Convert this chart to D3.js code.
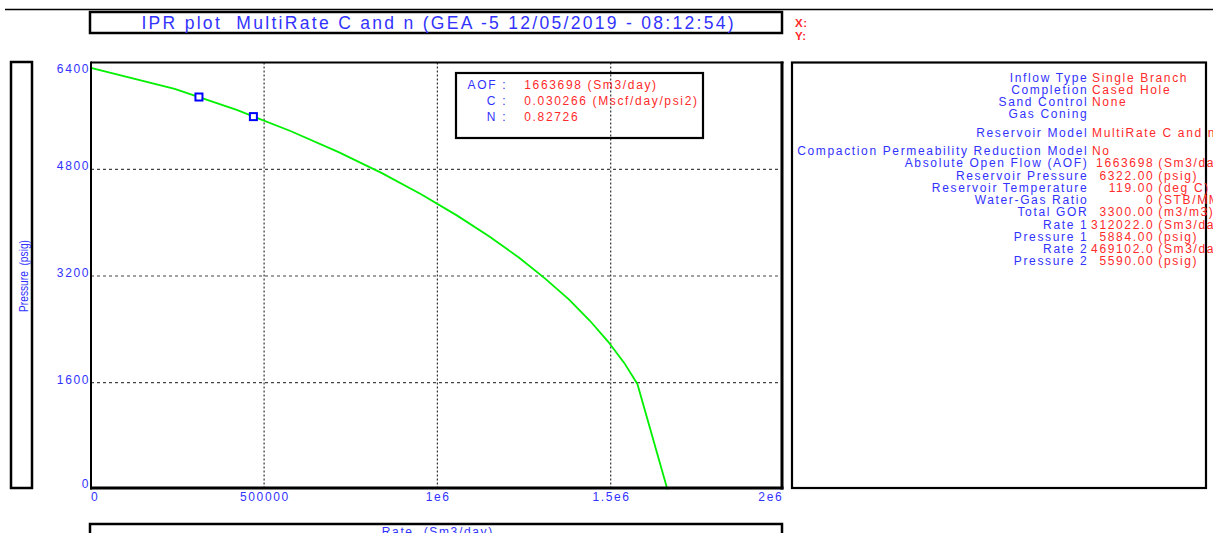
<!DOCTYPE html>
<html><head><meta charset="utf-8">
<script src="https://cdn.jsdelivr.net/npm/d3@7"></script>
<style>
html,body{margin:0;padding:0;background:#fff;overflow:hidden}
svg{display:block}
text{font-family:"Liberation Sans",Arial,sans-serif;white-space:pre}
</style></head><body>
<svg id="chart" width="1213" height="533"></svg>
<script>
// IPR curve: flowing bottom-hole pressure (psig) against gas rate (Sm3/day)
const curvePressures = [0, 1581, 1897, 2213, 2529, 2845, 3161, 3477, 3793, 4109, 4425, 4742, 5058, 5374, 5690, 6006, 6322];
const curveRates = [1663698, 1577000, 1539000, 1493000, 1440000, 1380000, 1311000, 1235000, 1150000, 1056000, 953000, 840000, 715000, 576000, 421000, 242000, 0];

// multi-rate test points
const testRates = [312022.0, 469102.0];
const testPressures = [5884.00, 5590.00];

const xTicks = [0, 500000, 1000000, 1500000, 2000000];
const xTickLabels = ["0", "500000", "1e6", "1.5e6", "2e6"];
const yTicks = [0, 1600, 3200, 4800, 6400];
const yTickLabels = ["0", "1600", "3200", "4800", "6400"];

const legendLabels = ["AOF :", "C :", "N :"];
const legendValues = ["1663698 (Sm3/day)", "0.030266 (Mscf/day/psi2)", "0.82726"];

const infoLabels = ["Inflow Type", "Completion", "Sand Control", "Gas Coning",
  "Reservoir Model",
  "Compaction Permeability Reduction Model", "Absolute Open Flow (AOF)", "Reservoir Pressure",
  "Reservoir Temperature", "Water-Gas Ratio", "Total GOR", "Rate 1", "Pressure 1", "Rate 2", "Pressure 2"];
const infoValues = ["Single Branch", "Cased Hole", "None", "",
  "MultiRate C and n",
  "No", "1663698", "6322.00", "119.00", "0", "3300.00",
  testRates[0].toFixed(1), testPressures[0].toFixed(2), testRates[1].toFixed(1), testPressures[1].toFixed(2)];
const infoUnits = ["", "", "", "", "", "", "(Sm3/day)", "(psig)", "(deg C)", "(STB/MMscf)", "(m3/m3)",
  "(Sm3/day)", "(psig)", "(Sm3/day)", "(psig)"];
const infoBlocks = [4, 1, 10];

const titleText = "IPR plot  MultiRate C and n (GEA -5 12/05/2019 - 08:12:54)";
const xTitle = "Rate  (Sm3/day)";
const yTitle = "Pressure  (psig)";

const BLUE = "#3232ff", RED = "#ff2a2a", INK = "#000";
const FS = 12, LS = 1.65;

const svg = d3.select("#chart");

function label(g, x, y, s, o = {}) {
  const ls = o.ls ?? LS;
  const anchor = o.anchor || "start";
  const shift = anchor === "end" ? ls : anchor === "middle" ? ls / 2 : 0;
  return g.append("text")
    .attr("x", x + shift).attr("y", y)
    .attr("text-anchor", anchor)
    .attr("font-size", o.size || FS)
    .attr("font-weight", o.weight || "normal")
    .style("letter-spacing", ls + "px")
    .attr("fill", o.color || BLUE)
    .text(s);
}

// scales
const x = d3.scaleLinear().domain([0, 2000000]).range([90.8, 784]);
const y = d3.scaleLinear().domain([0, 6400]).range([489.4, 62.6]);
const plotL = 91, plotR = 782, plotT = 62.6, plotB = 488;

// page rule
svg.append("line").attr("x1", 5).attr("x2", 1213).attr("y1", 9.5).attr("y2", 9.5)
  .attr("stroke", INK).attr("stroke-width", 1.5);

// title box
svg.append("rect").attr("x", 90).attr("y", 12).attr("width", 692).attr("height", 21)
  .attr("fill", "none").attr("stroke", INK).attr("stroke-width", 2.5);
label(svg, 437.5, 29, titleText, { anchor: "middle", size: 17.5, ls: 2.3 });

// cursor read-out
label(svg, 795, 27, "X:", { color: RED, weight: "bold", size: 11.5, ls: 0.5 });
label(svg, 795, 39.5, "Y:", { color: RED, weight: "bold", size: 11.5, ls: 0.5 });

// y-title box
svg.append("rect").attr("x", 11).attr("y", 62).attr("width", 21).attr("height", 426)
  .attr("fill", "none").attr("stroke", INK).attr("stroke-width", 2.5);
svg.append("text").attr("transform", "translate(27.5,276) rotate(-90) scale(0.85,1)")
  .attr("text-anchor", "middle").attr("font-size", 12).attr("fill", BLUE).text(yTitle);

// x-title box
svg.append("rect").attr("x", 90).attr("y", 524).attr("width", 692).attr("height", 30)
  .attr("fill", "none").attr("stroke", INK).attr("stroke-width", 2.5);
label(svg, 437, 536, xTitle, { anchor: "middle" });

// grid
const grid = svg.append("g");
grid.selectAll("line.h").data(yTicks.slice(1, -1)).join("line")
  .attr("x1", plotL).attr("x2", plotR)
  .attr("y1", d => y(d)).attr("y2", d => y(d))
  .attr("stroke", "#444").attr("stroke-width", 1.2).attr("stroke-dasharray", "3,3");
grid.selectAll("line.v").data(xTicks.slice(1, -1)).join("line")
  .attr("x1", d => x(d)).attr("x2", d => x(d))
  .attr("y1", plotT).attr("y2", plotB)
  .attr("stroke", "#333").attr("stroke-width", 1.2).attr("stroke-dasharray", "2,2");

// IPR curve
const pts = curveRates.map((q, i) => [q, curvePressures[i]]);
svg.append("path").datum(pts)
  .attr("d", d3.line().x(d => x(d[0])).y(d => y(d[1])))
  .attr("fill", "none").attr("stroke", "#00f000").attr("stroke-width", 1.8);

// test points
svg.selectAll("rect.pt").data(testRates.map((q, i) => [q, testPressures[i]])).join("rect")
  .attr("x", d => x(d[0]) - 3.5).attr("y", d => y(d[1]) - 3.5)
  .attr("width", 7).attr("height", 7)
  .attr("fill", "#fff").attr("stroke", "#0000ff").attr("stroke-width", 2);

// plot frame
const frame = svg.append("g").attr("stroke", INK);
frame.append("line").attr("x1", plotL).attr("x2", plotR + 1.5).attr("y1", plotT).attr("y2", plotT).attr("stroke-width", 2);
frame.append("line").attr("x1", plotL).attr("x2", plotL).attr("y1", plotT - 1).attr("y2", plotB + 1.5).attr("stroke-width", 2);
frame.append("line").attr("x1", plotR).attr("x2", plotR).attr("y1", plotT - 1).attr("y2", plotB + 1.5).attr("stroke-width", 3);
frame.append("line").attr("x1", plotL - 1).attr("x2", plotR + 1.5).attr("y1", plotB).attr("y2", plotB).attr("stroke-width", 3);

// tick labels (kept inside the plot span)
yTicks.forEach((v, i) => {
  const c = Math.max(plotT + 6.2, Math.min(489.4 - 6.1, y(v) - 3.5));
  label(svg, 88.5, c + 4.3, yTickLabels[i], { anchor: "end" });
});
xTicks.forEach((v, i) => {
  const anchor = i === 0 ? "start" : i === xTicks.length - 1 ? "end" : "middle";
  const px = i === 0 ? 91 : i === xTicks.length - 1 ? 781.7 : x(v);
  label(svg, px, 501, xTickLabels[i], { anchor });
});

// legend box
svg.append("rect").attr("x", 456).attr("y", 73).attr("width", 247).attr("height", 65)
  .attr("fill", "none").attr("stroke", INK).attr("stroke-width", 2.2);
legendLabels.forEach((s, i) => {
  const by = 89.3 + i * 16;
  label(svg, 505.5, by, s, { anchor: "end" });
  label(svg, 524.3, by, legendValues[i], { color: RED });
});

// well / reservoir summary panel
svg.append("rect").attr("x", 792).attr("y", 62.5).attr("width", 414).attr("height", 425.5)
  .attr("fill", "none").attr("stroke", INK).attr("stroke-width", 2.2);
const rowStep = 12.25, blockGap = 18.4;
let cy = 77.3, row = 0;
infoBlocks.forEach((n, b) => {
  if (b > 0) cy += blockGap - rowStep;
  for (let k = 0; k < n; k++, row++) {
    const by = cy + 4.3;
    label(svg, 1086.7, by, infoLabels[row], { anchor: "end" });
    if (infoUnits[row]) {
      label(svg, 1152.7, by, infoValues[row], { anchor: "end", color: RED });
      label(svg, 1158.3, by, infoUnits[row], { color: RED });
    } else if (infoValues[row]) {
      label(svg, 1092, by, infoValues[row], { color: RED });
    }
    cy += rowStep;
  }
});
</script>
</body></html>
